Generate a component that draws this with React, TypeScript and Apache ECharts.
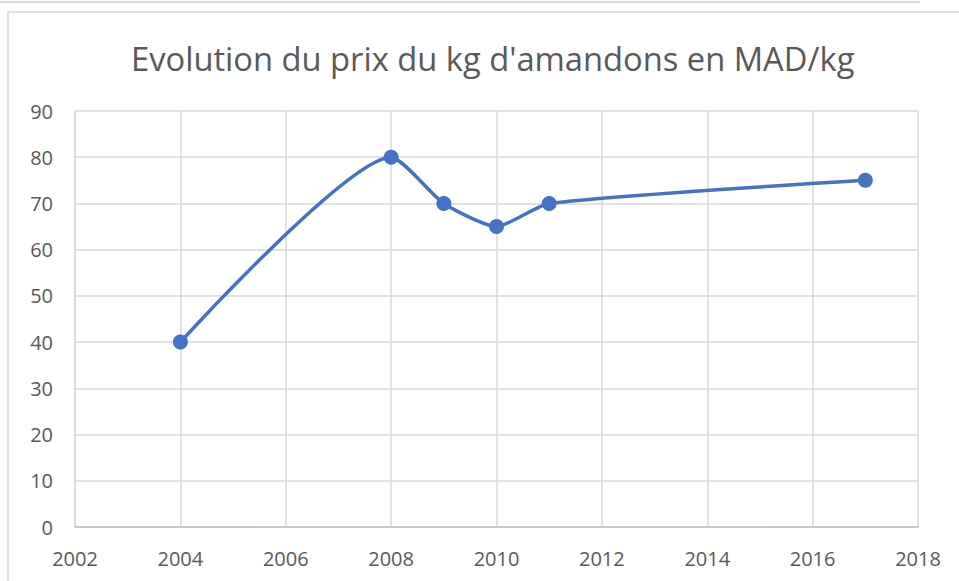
import React, { useEffect, useRef } from "react";
import * as echarts from "echarts";

const years = [2004, 2008, 2009, 2010, 2011, 2017];
const prices = [40, 80, 70, 65, 70, 75];
const title = "Evolution du prix du kg d'amandons en MAD/kg";

export default function App() {
  const ref = useRef<HTMLDivElement>(null);
  useEffect(() => {
    if (!ref.current) return;
    const chart = echarts.init(ref.current, undefined, { renderer: "svg" });
    const grey = "#d9d9d9";
    const txt = "#595959";
    chart.setOption({
      animation: false,
      backgroundColor: "#ffffff",
      title: {
        text: title,
        left: 126,
        top: 37,
        textStyle: { fontFamily: "Open Sans", fontSize: 32.7, fontWeight: "normal", color: txt },
      },
      grid: { left: 75, right: 41, top: 111, bottom: 54 },
      xAxis: {
        type: "value",
        min: 2002,
        max: 2018,
        interval: 2,
        axisLine: { show: true, lineStyle: { color: "#bfbfbf", width: 1.5 } },
        axisTick: { show: false },
        splitLine: { show: true, lineStyle: { color: grey, width: 1.5 } },
        axisLabel: {
          formatter: (v: number) => String(v),
          color: txt,
          fontFamily: "Open Sans",
          fontSize: 20,
          margin: 21,
        },
      },
      yAxis: {
        type: "value",
        min: 0,
        max: 90,
        interval: 10,
        axisLine: { show: true, lineStyle: { color: grey, width: 1.5 } },
        axisTick: { show: false },
        splitLine: { show: true, lineStyle: { color: grey, width: 1.5 } },
        axisLabel: { color: txt, fontFamily: "Open Sans", fontSize: 20, margin: 22 },
      },
      series: [
        {
          type: "line",
          data: years.map((y, i) => [y, prices[i]]),
          smooth: 0.2,
          symbol: "circle",
          symbolSize: 15,
          lineStyle: { color: "#4472c4", width: 3.5 },
          itemStyle: { color: "#4472c4" },
        },
      ],
      graphic: [
        {
          type: "line",
          shape: { x1: 0, y1: 2, x2: 920, y2: 2 },
          style: { stroke: grey, lineWidth: 2 },
          silent: true,
        },
        {
          type: "rect",
          shape: { x: 8, y: 12, width: 1000, height: 700 },
          style: { fill: "none", stroke: grey, lineWidth: 1.5 },
          silent: true,
        },
      ],
    });
    return () => chart.dispose();
  }, []);
  return (
    <div
      ref={ref}
      style={{ position: "fixed", left: 0, top: 0, width: 959, height: 581 }}
    />
  );
}
